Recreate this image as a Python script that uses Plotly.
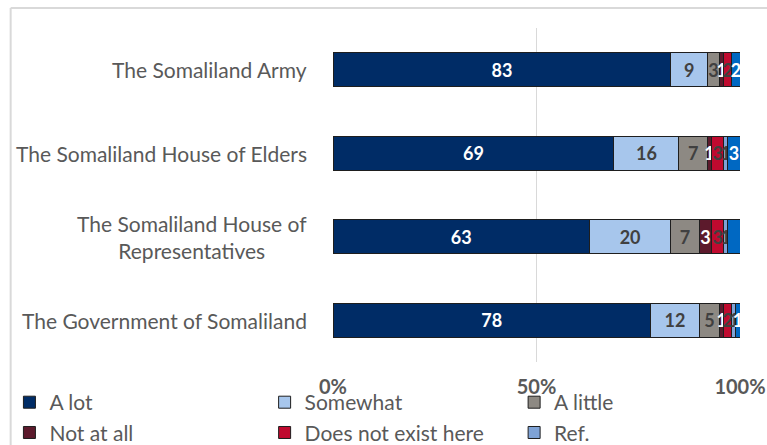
import plotly.graph_objects as go

categories = ["The Somaliland Army", "The Somaliland House of Elders",
              "The Somaliland House of<br>Representatives", "The Government of Somaliland"]
series_names = ["A lot", "Somewhat", "A little", "Not at all", "Does not exist here", "Ref.", "Don't know"]
a_lot = [83, 69, 63, 78]
somewhat = [9, 16, 20, 12]
a_little = [3, 7, 7, 5]
not_at_all = [1, 1, 3, 1]
not_exist = [2, 3, 3, 2]
ref = [0, 1, 1, 1]
dont_know = [2, 3, 3, 1]
x_ticks = [0, 0.5, 1]
x_tick_labels = ["0%", "50%", "100%"]

values = [a_lot, somewhat, a_little, not_at_all, not_exist, ref, dont_know]
colors = ["#002C66", "#A7C6EC", "#8D8983", "#5C1A2C", "#C00A2F", "#7FA3D6", "#0068C2"]
text_colors = ["white", "#404040", "#404040", "white", "#404040", "#404040", "white"]
legend_ids = ["legend", "legend2", "legend3", "legend", "legend2", "legend3", None]

FONT = "Lato"
fig = go.Figure()
for name, vals, col, tcol, lid in zip(series_names, values, colors, text_colors, legend_ids):
    fig.add_trace(go.Bar(
        y=categories, x=[v / 100 for v in vals], name=name, orientation="h",
        marker=dict(color=col, line=dict(color="#1e1e1e", width=1)),
        text=[str(v) if v > 0 else "" for v in vals],
        textposition="inside", insidetextanchor="middle",
        textfont=dict(family=FONT, size=18, color=tcol, weight="bold"),
        showlegend=lid is not None, legend=lid if lid else "legend",
        legendgroup=name, width=0.41, cliponaxis=False,
    ))

leg_common = dict(orientation="v", xanchor="left", y=-0.06, yanchor="top",
                  traceorder="grouped", tracegroupgap=0,
                  font=dict(family=FONT, size=21, color="#595959"),
                  itemclick=False, itemdoubleclick=False, bgcolor="rgba(0,0,0,0)")

fig.update_layout(
    width=767, height=445,
    margin=dict(l=333, r=27, t=28, b=83, autoexpand=False),
    barmode="stack", bargap=0.59,
    plot_bgcolor="white", paper_bgcolor="white",
    uniformtext=dict(minsize=18, mode="show"),
    font=dict(family=FONT, color="#595959"),
    xaxis=dict(range=[0, 1], tickvals=x_ticks, ticktext=x_tick_labels,
               showgrid=True, gridcolor="#D9D9D9", gridwidth=1, zeroline=False,
               tickfont=dict(family=FONT, size=20, color="#595959", weight="bold"),
               ticks="", showline=False, fixedrange=True, ticklabelstandoff=11),
    yaxis=dict(categoryorder="array", categoryarray=categories, autorange="reversed",
               showticklabels=False, showgrid=False, zeroline=False, showline=False),
    legend=dict(x=-0.795, **leg_common),
    legend2=dict(x=-0.168, **leg_common),
    legend3=dict(x=0.445, **leg_common),
    showlegend=True,
)

for c in categories:
    fig.add_annotation(x=0, y=c, xref="paper", yref="y", text=c, showarrow=False,
                       xanchor="right", yanchor="middle", align="center", xshift=-24,
                       font=dict(family=FONT, size=21, color="#595959"))

# outer chart frame (top and left visible)
fig.add_shape(type="line", xref="paper", yref="paper", x0=-0.792, x1=1.2, y0=1.06, y1=1.06,
              line=dict(color="#D9D9D9", width=2))
fig.add_shape(type="line", xref="paper", yref="paper", x0=-0.792, x1=-0.792, y0=1.06, y1=-0.5,
              line=dict(color="#D9D9D9", width=2))

fig.write_html("out.html")
